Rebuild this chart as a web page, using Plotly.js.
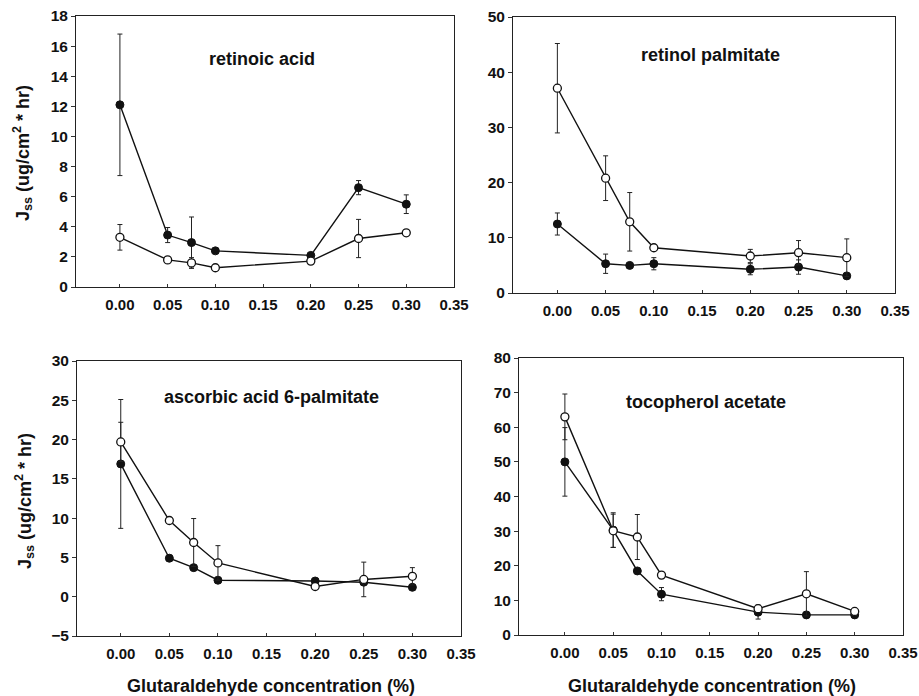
<!DOCTYPE html>
<html>
<head>
<meta charset="utf-8">
<script src="https://cdn.plot.ly/plotly-3.0.1.min.js"></script>
<style>html,body{margin:0;padding:0;background:#fff;}#chart{width:919px;height:696px;}</style>
</head>
<body>
<div id="chart"></div>
<script>
// Glutaraldehyde concentration (%)
const conc = [0.00, 0.05, 0.075, 0.10, 0.20, 0.25, 0.30];
const xTicks = [0.00, 0.05, 0.10, 0.15, 0.20, 0.25, 0.30, 0.35];

// retinoic acid
const raFilled = [12.1, 3.45, 2.95, 2.4, 2.1, 6.6, 5.5];
const raFilledErr = [4.7, 0.5, 1.7, 0.1, 0.15, 0.47, 0.62];
const raOpen = [3.3, 1.8, 1.6, 1.28, 1.72, 3.22, 3.6];
const raOpenErr = [0.85, 0.1, 0.35, 0.1, 0.1, 1.27, 0.2];

// retinol palmitate
const rpFilled = [12.5, 5.3, 5.0, 5.3, 4.3, 4.7, 3.1];
const rpFilledErr = [2.0, 1.75, 0.3, 1.1, 1.0, 1.3, 0.3];
const rpOpen = [37.1, 20.8, 12.9, 8.2, 6.7, 7.3, 6.4];
const rpOpenErr = [8.1, 4.05, 5.3, 0.3, 1.2, 2.2, 3.4];

// ascorbic acid 6-palmitate
const aaFilled = [16.9, 4.9, 3.7, 2.1, 2.0, 1.85, 1.2];
const aaFilledErr = [8.2, 0.4, 0.3, 0.2, 0.2, 0.3, 0.2];
const aaOpen = [19.7, 9.7, 6.9, 4.3, 1.3, 2.2, 2.6];
const aaOpenErr = [2.5, 0.2, 3.05, 2.2, 0.3, 2.2, 1.1];

// tocopherol acetate
const taFilled = [50.0, 30.3, 18.5, 11.8, 6.6, 5.8, 5.8];
const taFilledErr = [9.9, 5.0, 0.5, 1.9, 2.0, 0.3, 0.3];
const taOpen = [63.0, 30.1, 28.3, 17.3, 7.6, 11.9, 6.8];
const taOpenErr = [6.6, 4.8, 6.5, 1.0, 1.0, 6.4, 0.5];

const panels = [
  {name: 'retinoic acid', filled: raFilled, fErr: raFilledErr, open: raOpen, oErr: raOpenErr},
  {name: 'retinol palmitate', filled: rpFilled, fErr: rpFilledErr, open: rpOpen, oErr: rpOpenErr},
  {name: 'ascorbic acid 6-palmitate', filled: aaFilled, fErr: aaFilledErr, open: aaOpen, oErr: aaOpenErr},
  {name: 'tocopherol acetate', filled: taFilled, fErr: taFilledErr, open: taOpen, oErr: taOpenErr}
];

const W = 919, H = 696;
const px = (a, b) => [a / W, b / W];
const py = (top, bottom) => [1 - bottom / H, 1 - top / H];

const geom = [
  {xd: px(76, 454), yd: py(16, 287), xr: [-0.046, 0.35], yr: [0, 18], dt: 2},
  {xd: px(513, 895), yd: py(17, 293), xr: [-0.046, 0.35], yr: [0, 50], dt: 10},
  {xd: px(77, 461), yd: py(361, 636), xr: [-0.045, 0.35], yr: [-5, 30], dt: 5},
  {xd: px(519, 903), yd: py(358, 635), xr: [-0.0475, 0.35], yr: [0, 80], dt: 10}
];

const FONT = 'Liberation Sans, Arial, sans-serif';
const traces = [];
const layout = {
  width: W, height: H,
  margin: {l: 0, r: 0, t: 0, b: 0},
  paper_bgcolor: '#fff', plot_bgcolor: '#fff',
  showlegend: false,
  font: {family: FONT, color: '#111'},
  annotations: []
};

panels.forEach((p, i) => {
  const n = i + 1;
  const xa = n === 1 ? 'x' : 'x' + n;
  const ya = n === 1 ? 'y' : 'y' + n;
  const g = geom[i];
  const lineStyle = {color: '#111', width: 1.4};
  traces.push({
    x: conc, y: p.filled, xaxis: xa, yaxis: ya, type: 'scatter', mode: 'lines+markers',
    line: lineStyle,
    marker: {symbol: 'circle', size: 8, color: '#111', line: {color: '#111', width: 1}},
    error_y: {type: 'data', array: p.fErr, visible: true, color: '#222', thickness: 1, width: 2.5}
  });
  traces.push({
    x: conc, y: p.open, xaxis: xa, yaxis: ya, type: 'scatter', mode: 'lines+markers',
    line: lineStyle,
    marker: {symbol: 'circle', size: 8, color: '#fff', line: {color: '#111', width: 1.3}},
    error_y: {type: 'data', array: p.oErr, visible: true, color: '#222', thickness: 1, width: 2.5}
  });
  layout['xaxis' + (n === 1 ? '' : n)] = {
    domain: g.xd, range: g.xr, anchor: ya,
    tickmode: 'array', tickvals: xTicks, ticktext: xTicks.map(v => v.toFixed(2)),
    ticks: 'inside', ticklen: 3, tickcolor: '#333', tickwidth: 1,
    showline: true, mirror: true, linecolor: '#222', linewidth: 1,
    showgrid: false, zeroline: false,
    tickfont: {family: FONT, size: 15, color: '#111', weight: 'bold'},
    ticklabelstandoff: 4
  };
  layout['yaxis' + (n === 1 ? '' : n)] = {
    domain: g.yd, range: g.yr, anchor: xa,
    tick0: 0, dtick: g.dt,
    ticks: 'outside', ticklen: 4, tickcolor: '#333', tickwidth: 1,
    showline: true, mirror: true, linecolor: '#222', linewidth: 1,
    showgrid: false, zeroline: false,
    tickfont: {family: FONT, size: 15.5, color: '#111', weight: 'bold'}
  };
});

// panel titles
const titlePos = [[262, 59], [710, 55], [271, 397], [706, 402]];
panels.forEach((p, i) => {
  layout.annotations.push({
    xref: 'paper', yref: 'paper', x: titlePos[i][0] / W, y: 1 - titlePos[i][1] / H,
    xanchor: 'center', yanchor: 'middle', showarrow: false,
    text: p.name, font: {family: FONT, size: 18, color: '#111', weight: 'bold'}
  });
});

// y-axis titles
const yTitle = 'J<sub>ss</sub> (ug/cm<sup>2</sup> * hr)';
[[22, 153], [24, 501]].forEach(pos => {
  layout.annotations.push({
    xref: 'paper', yref: 'paper', x: pos[0] / W, y: 1 - pos[1] / H,
    xanchor: 'center', yanchor: 'middle', showarrow: false, textangle: -90,
    text: yTitle, font: {family: FONT, size: 18, color: '#111', weight: 'bold'}
  });
});

// x-axis titles
[[271, 686], [712, 686]].forEach(pos => {
  layout.annotations.push({
    xref: 'paper', yref: 'paper', x: pos[0] / W, y: 1 - pos[1] / H,
    xanchor: 'center', yanchor: 'middle', showarrow: false,
    text: 'Glutaraldehyde concentration (%)', font: {family: FONT, size: 18, color: '#111', weight: 'bold'}
  });
});

Plotly.newPlot('chart', traces, layout, {staticPlot: true, displayModeBar: false});
</script>
</body>
</html>
